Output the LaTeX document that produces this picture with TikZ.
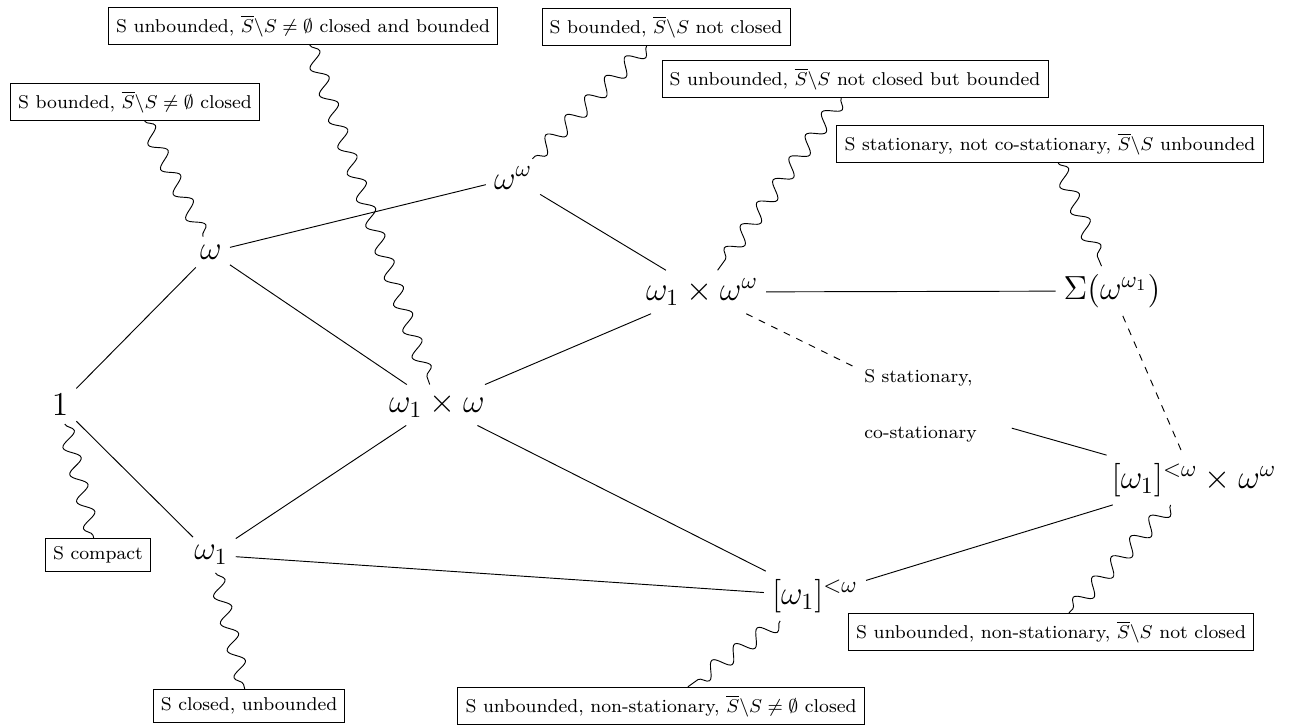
\documentclass[tikz,border=0pt]{standalone}
\usetikzlibrary{decorations.pathmorphing}
\begin{document}
\begin{tikzpicture}[x=0.431pt,y=-0.431pt,
  m/.style={font=\Large, inner sep=3.33pt},
  box/.style={draw, font=\footnotesize, inner sep=3.33pt},
  wig/.style={decorate, decoration={snake, segment length=12pt, amplitude=3.3pt}},
]
\useasboundingbox (0,0) rectangle (1291,726);
% main nodes
\node[m] (one)   at (60,405)   {$1$};
\node[m] (w)     at (211,252)  {$\omega$};
\node[m] (ww)    at (513,178)  {$\omega^\omega$};
\node[m] (w1w)   at (437,405)  {$\omega_1\times\omega$};
\node[m] (w1ww)  at (702,292)  {$\omega_1\times\omega^\omega$};
\node[m] (sigma) at (1112,291) {$\Sigma\!\left(\omega^{\omega_1}\right)$};
\node[m] (cw)    at (1194,480) {$[\omega_1]^{<\omega}\times\omega^\omega$};
\node[m] (w1)    at (211,555)  {$\omega_1$};
\node[m] (fin)   at (815,596)  {$[\omega_1]^{<\omega}$};
\node[font=\footnotesize, text width=60pt, align=left, inner sep=3.33pt] (st) at (934,406) {S stationary,\\[14.5pt] co-stationary};
% boxes
\node[box] (bcompact) at (98,555)   {S compact};
\node[box] (bclosed)  at (249,706)  {S closed, unbounded};
\node[box] (bnsne)    at (661,706)  {S unbounded, non-stationary, $\overline{S}\backslash S\neq\emptyset$ closed};
\node[box] (bnsnc)    at (1051,632) {S unbounded, non-stationary, $\overline{S}\backslash S$ not closed};
\node[box] (bbc)      at (135,102)  {S bounded, $\overline{S}\backslash S\neq\emptyset$ closed};
\node[box] (bucb)     at (303,26)   {S unbounded, $\overline{S}\backslash S\neq\emptyset$ closed and bounded};
\node[box] (bbnc)     at (666,27)   {S bounded, $\overline{S}\backslash S$ not closed};
\node[box] (buncb)    at (855,79)   {S unbounded, $\overline{S}\backslash S$ not closed but bounded};
\node[box] (bsnc)     at (1050,144) {S stationary, not co-stationary, $\overline{S}\backslash S$ unbounded};
% lines
\draw (one) -- (w);
\draw (one) -- (w1);
\draw (w) -- (ww);
\draw (w) -- (w1w);
\draw (ww) -- (w1ww);
\draw (w1w) -- (w1ww);
\draw (w1w) -- (w1);
\draw (w1w) -- (fin);
\draw (w1) -- (fin);
\draw (fin) -- (cw);
\draw (w1ww) -- (sigma);
\draw (st) -- (cw);
\draw[dashed] (sigma) -- (cw);
\draw[dashed] (w1ww) -- (st);
% snakes
\draw[wig] (one) -- (bcompact);
\draw[wig] (w1) -- (bclosed);
\draw[wig] (fin) -- (bnsne);
\draw[wig] (cw) -- (bnsnc);
\draw[wig] (bbc) -- (w);
\draw[wig] (bucb) -- (w1w);
\draw[wig] (bbnc) -- (ww);
\draw[wig] (buncb) -- (w1ww);
\draw[wig] (bsnc) -- (sigma);
\end{tikzpicture}
\end{document}
